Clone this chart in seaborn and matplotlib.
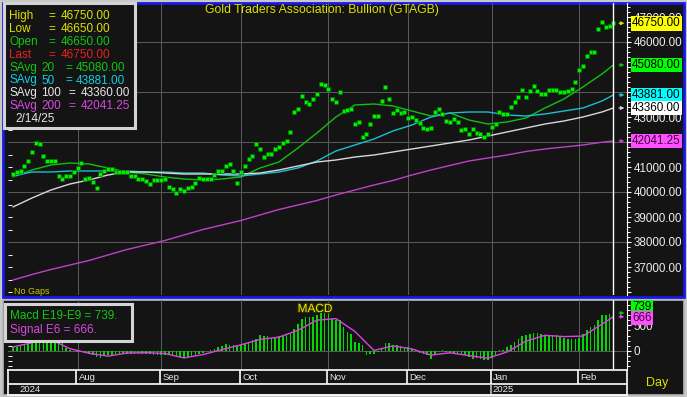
# ==========================================
# GOLD TRADERS ASSOCIATION: BULLION (GTAGB)
# PRICE + MOVING AVERAGES + MACD PANEL
# ==========================================

import numpy as np
import pandas as pd
import matplotlib
matplotlib.use("Agg")
import matplotlib.pyplot as plt
import matplotlib.patches as mpatches
import matplotlib.transforms as mtransforms
import matplotlib.patheffects as pe
from matplotlib.ticker import MultipleLocator, FuncFormatter
import seaborn as sns

# ==========================================
# DATA
# ==========================================

start_date = "2024-07-09"
end_date = "2025-02-14"

# daily closes, one per business day
close_prices = [
    40720, 40800, 40840, 41040, 41240, 41600, 41960, 41920, 41440, 41240,
    41240, 41240, 40640, 40520, 40640, 40640, 40800, 40960, 41160, 40520,
    40560, 40400, 40160, 40720, 40840, 40920, 40920, 40800, 40800, 40800,
    40800, 40640, 40640, 40520, 40520, 40440, 40320, 40480, 40480, 40480,
    40520, 40200, 40120, 39960, 40120, 40040, 40160, 40200, 40360, 40560,
    40520, 40520, 40520, 40680, 40840, 40840, 41040, 41120, 40840, 40360,
    40800, 41040, 41320, 41440, 41920, 41720, 41400, 41520, 41520, 41720,
    41800, 41960, 42040, 42400, 43200, 43320, 43840, 43600, 43520, 43720,
    43920, 44320, 44280, 44120, 43720, 43600, 44000, 43240, 43280, 43320,
    42720, 42800, 42200, 42320, 42720, 43040, 43040, 43640, 44200, 43720,
    43160, 43280, 43160, 43200, 42960, 43000, 42880, 42760, 42560, 42520,
    42560, 43200, 43320, 43120, 42840, 42800, 42920, 42800, 42480, 42520,
    42320, 42520, 42360, 42320, 42200, 42320, 42600, 42720, 43200, 43120,
    43120, 43400, 43600, 43800, 44080, 43800, 44040, 44240, 44040, 43920,
    43920, 44080, 44080, 44080, 44000, 44000, 44040, 44120, 44400, 44880,
    45040, 45440, 45600, 45600, 46520, 46800, 46600, 46640, 46750,
]

# moving averages, read every 5 business days plus the last day
savg_20 = [
    40600, 40880, 41080, 41160, 41120, 40960, 40800, 40720, 40600, 40520,
    40480, 40520, 40600, 40960, 41200, 41760, 42360, 43000, 43480, 43520,
    43440, 43240, 43040, 43160, 42880, 42720, 42800, 42960, 43360, 43720,
    44200, 44720, 45080,
]
savg_50 = [
    40640, 40800, 40800, 40840, 40840, 40840, 40840, 40800, 40800, 40760,
    40760, 40680, 40640, 40720, 40800, 40960, 41240, 41640, 41880, 42120,
    42440, 42680, 43000, 43160, 43200, 43200, 43080, 43040, 43120, 43240,
    43360, 43640, 43881,
]
savg_100 = [
    39400, 39760, 40080, 40320, 40480, 40680, 40800, 40800, 40760, 40720,
    40720, 40720, 40720, 40760, 40880, 41040, 41200, 41280, 41400, 41480,
    41600, 41720, 41840, 41960, 42080, 42240, 42400, 42560, 42720, 42840,
    43000, 43200, 43360,
]
savg_200 = [
    36480, 36700, 36900, 37080, 37260, 37480, 37700, 37880, 38060, 38280,
    38500, 38680, 38860, 39080, 39300, 39480, 39660, 39880, 40080, 40280,
    40460, 40680, 40880, 41060, 41240, 41360, 41480, 41620, 41720, 41800,
    41880, 41990, 42041.25,
]

# MACD histogram, one per business day
macd_values = [
    78, 78, 90, 110, 143, 190, 240, 270, 270, 260,
    250, 230, 190, 150, 60, 20, -10, -25, -20, -40,
    -60, -80, -110, -145, -100, -80, -70, -60, -50, -50,
    -50, -55, -55, -55, -60, -60, -65, -70, -70, -70,
    -75, -80, -95, -110, -125, -130, -125, -115, -90, -60,
    -35, -10, 26, 45, 78, 90, 130, 110, 123, 123,
    123, 130, 175, 207, 240, 305, 285, 285, 260, 272,
    285, 285, 305, 337, 420, 518, 615, 660, 660, 660,
    693, 740, 740, 713, 628, 596, 596, 467, 370, 337,
    175, 155, 110, -84, -52, -52, -20, 45, 155, 155,
    110, 110, 90, 78, 78, 45, 13, -39, -65, -84,
    -149, -65, -20, 13, -20, -39, -39, -52, -52, -84,
    -117, -149, -130, -149, -168, -168, -130, -84, 13, 26,
    78, 110, 175, 240, 285, 305, 324, 356, 356, 337,
    305, 305, 305, 305, 272, 260, 240, 240, 240, 260,
    337, 402, 467, 499, 596, 693, 706, 726, 739,
]

# signal line, read every 5 business days plus the last day
signal_values = [
    78, 160, 220, 45, -45, -100, -40, -32, -50, -135,
    -70, 26, 120, 225, 270, 400, 600, 630, 380, 10,
    100, 40, -80, -35, -90, -140, -20, 190, 305, 280,
    290, 520, 666,
]

month_labels = ["Aug", "Sep", "Oct", "Nov", "Dec", "Jan", "Feb"]
year_labels = ["2024", "2025"]
price_grid_levels = [38000, 40000, 42000, 44000, 46000]
hidden_price_labels = [36000, 42000, 44000, 45000]  # covered by value tags

legend_rows = [
    ("High", "46750.00", "#e0e000"),
    ("Low", "46650.00", "#e0e000"),
    ("Open", "46650.00", "#10c810"),
    ("Last", "46750.00", "#e82020"),
]
savg_rows = [
    ("20", "45080.00", "#10c810"),
    ("50", "43881.00", "#10d0e0"),
    ("100", "43360.00", "#e8e8e8"),
    ("200", "42041.25", "#d848e0"),
]
last_date = "2/14/25"

# ==========================================
# PREP
# ==========================================

dates = pd.bdate_range(start_date, end_date)
days = np.arange(len(dates))
ma_days = list(range(0, len(dates), 5)) + [len(dates) - 1]

price_df = pd.DataFrame({"day": days, "close": close_prices})

ma_colors = {
    "SAvg 20": "#10c010",
    "SAvg 50": "#18c0d0",
    "SAvg 100": "#d8d8d8",
    "SAvg 200": "#c040c8",
}
ma_df = pd.concat([
    pd.DataFrame({"day": ma_days, "value": vals, "series": name})
    for name, vals in zip(ma_colors.keys(), [savg_20, savg_50, savg_100, savg_200])
])

month_days = [i for i in range(1, len(dates)) if dates[i].month != dates[i - 1].month]

# ==========================================
# FIGURE SETUP
# ==========================================

sns.set_theme(style="dark")
plt.rcParams["font.family"] = ["Liberation Sans", "DejaVu Sans"]

W, H = 687, 397
BG = "#141414"
GRID = "#585858"

fig = plt.figure(figsize=(W / 100, H / 100), dpi=100, facecolor="#c8c8c8")


def px_rect(x0, y0, x1, y1):
    return [x0 / W, 1 - y1 / H, (x1 - x0) / W, (y1 - y0) / H]


def add_box(x0, y0, x1, y1, face, edge, lw, z):
    l, b, w, h = px_rect(x0, y0, x1, y1)
    fig.add_artist(mpatches.Rectangle(
        (l, b), w, h, transform=fig.transFigure,
        facecolor=face, edgecolor=edge, linewidth=lw, zorder=z
    ))


def fig_text(x, y, s, color, size, **kw):
    return fig.text(x / W, 1 - y / H, s, color=color, fontsize=size,
                    va="center", zorder=9, **kw)


def right_axis(ax, major, minor, fmt):
    axr = ax.twinx()
    axr.set_ylim(ax.get_ylim())
    axr.set_xlim(*xlim)
    for s in axr.spines.values():
        s.set_visible(False)
    axr.spines["right"].set_visible(True)
    axr.spines["right"].set_color("white")
    axr.spines["right"].set_linewidth(0.8)
    axr.yaxis.set_major_locator(MultipleLocator(major))
    axr.yaxis.set_minor_locator(MultipleLocator(minor))
    axr.yaxis.set_major_formatter(FuncFormatter(fmt))
    axr.tick_params(axis="y", which="major", length=3, width=0.8, pad=1.5,
                    color="white", labelcolor="#ececec", labelsize=8.4)
    axr.tick_params(axis="y", which="minor", length=2, width=0.7, color="white")
    axr.grid(False)
    axr.set_ylabel("")
    return axr


def value_tag(axr, val, label, fc, tc, z=10):
    tr = mtransforms.blended_transform_factory(axr.transAxes, axr.transData)
    axr.text(1 + 5 / 619, val, label, transform=tr, fontsize=8.4, color=tc,
             va="center", ha="left", clip_on=False, zorder=z,
             bbox=dict(boxstyle="square,pad=0.12", fc=fc, ec="none"))


def tag_arrow(axr, val, color):
    axr.annotate("", xy=(160.9, val), xytext=(159.5, val),
                 arrowprops=dict(arrowstyle="-|>", color=color, lw=0.8,
                                 mutation_scale=5, shrinkA=0, shrinkB=0),
                 annotation_clip=False)


def grid_lines(ax, xs, ys):
    for pos in xs:
        ax.axvline(pos, color=GRID, linewidth=0.75, zorder=1.5, snap=True)
    for lvl in ys:
        ax.axhline(lvl, color=GRID, linewidth=0.75, zorder=1.5, snap=True)


# panel backgrounds
add_box(3, 2.5, 684, 296.5, BG, "#1818e8", 2, -5)
add_box(3, 299.5, 684, 395, BG, "#b8b8b8", 1.2, -5)

ax_main = fig.add_axes(px_rect(8, 3, 627, 295))
ax_macd = fig.add_axes(px_rect(8, 300, 627, 370))
ax_date = fig.add_axes(px_rect(8, 370, 627, 395))

xlim = (-1.3, 161.6)
for ax in (ax_main, ax_macd, ax_date):
    ax.set_facecolor("none")
    ax.set_xlim(*xlim)
    ax.grid(False)
    for s in ax.spines.values():
        s.set_visible(False)

# ==========================================
# MAIN PRICE PANEL
# ==========================================

ax_main.set_ylim(35880, 47560)
grid_lines(ax_main, month_days, price_grid_levels)

sns.lineplot(data=ma_df, x="day", y="value", hue="series", palette=ma_colors,
             estimator=None, linewidth=1, legend=False, ax=ax_main, zorder=3)
sns.scatterplot(data=price_df, x="day", y="close", marker="s", s=11,
                color="#00f000", edgecolor="#006800", linewidth=0.4,
                legend=False, ax=ax_main, zorder=4)

ax_main.axvline(days[-1], color="white", linewidth=1, zorder=5)

ax_main.set_xlabel("")
ax_main.set_ylabel("")
ax_main.set_xticks([])
ax_main.yaxis.set_major_locator(MultipleLocator(500))
ax_main.tick_params(axis="y", which="major", left=True, length=3, width=0.7,
                    color="white", direction="in", labelleft=False)

ax_r = right_axis(ax_main, 1000, 200,
                  lambda v, p: "" if round(v) in hidden_price_labels else f"{v:.2f}")

price_tags = [
    (46750, "46750.00", "#ffff00", "#000000", "#e0e000"),
    (45080, "45080.00", "#00ff00", "#000000", "#10c010"),
    (43881, "43881.00", "#00ffff", "#000000", "#18c0d0"),
    (43360, "43360.00", "#ffffff", "#000000", "#d8d8d8"),
    (42041.25, "42041.25", "#ff50ff", "#400040", "#c040c8"),
]
for val, lab, fc, tc, ac in price_tags:
    value_tag(ax_r, val, lab, fc, tc)
    tag_arrow(ax_r, val, ac)

# ==========================================
# MACD PANEL
# ==========================================

ax_macd.set_ylim(-370, 992)
grid_lines(ax_macd, month_days, [0])

ax_macd.bar(days, macd_values, width=0.42, color="#00d800",
            edgecolor="none", linewidth=0, zorder=3)
sns.lineplot(x=ma_days, y=signal_values, color="#e040e8", linewidth=1,
             ax=ax_macd, zorder=4)
ax_macd.axvline(days[-1], color="white", linewidth=1, zorder=5)

ax_macd.set_xticks([])
ax_macd.yaxis.set_major_locator(MultipleLocator(100))
ax_macd.tick_params(axis="y", which="major", left=True, length=3, width=0.7,
                    color="white", direction="in", labelleft=False)
ax_macd.spines["bottom"].set_visible(True)
ax_macd.spines["bottom"].set_color("white")
ax_macd.spines["bottom"].set_linewidth(1.2)

ax_mr = right_axis(ax_macd, 500, 100, lambda v, p: f"{v:.0f}")
value_tag(ax_mr, 856, "739", "#00ff00", "#000000", z=10)
value_tag(ax_mr, 640, "666", "#ff50ff", "#400040", z=11)
tag_arrow(ax_mr, 739, "#10c010")
tag_arrow(ax_mr, 666, "#e040e8")

# ==========================================
# DATE BAND
# ==========================================

ax_date.set_ylim(0, 1)
ax_date.set_xticks([])
ax_date.set_yticks([])
for side in ("left", "right", "bottom"):
    ax_date.spines[side].set_visible(True)
    ax_date.spines[side].set_color("white")
    ax_date.spines[side].set_linewidth(1.2)
ax_date.axhline(0.458, color="white", linewidth=1.2)

for pos, lab in zip(month_days, month_labels):
    ax_date.vlines(pos - 0.3, 0.458, 1, color="white", linewidth=1.2)
    ax_date.text(pos + 0.3, 0.70, lab, color="#e8e8e8", fontsize=6.8,
                 ha="left", va="center")

jan_pos = month_days[month_labels.index("Jan")]
ax_date.vlines(jan_pos - 0.3, 0, 0.458, color="#bdbdbd", linewidth=1.2)
ax_date.text(1.6, 0.24, year_labels[0], color="#e8e8e8", fontsize=6.8,
             ha="left", va="center")
ax_date.text(jan_pos + 0.3, 0.24, year_labels[1], color="#e8e8e8", fontsize=6.8,
             ha="left", va="center")

fig_text(657, 383, "Day", "#e0e000", 9, ha="center")

# ==========================================
# TEXT OVERLAYS
# ==========================================

fig_text(322, 10, "Gold Traders Association: Bullion (GTAGB)", "#e0e000", 8.8,
         ha="center")
fig_text(14, 291, "No Gaps", "#c8c800", 6.5, ha="left")

# main legend box
add_box(3.5, 3.5, 135, 128, BG, "#d4d4d4", 2.2, 6)
row_y = [16 + 12.9 * k for k in range(9)]
for (lab, val, col), y in zip(legend_rows, row_y[:4]):
    fig_text(9, y, lab, col, 8.5, ha="left")
    fig_text(48, y, "=", col, 8.5, ha="left")
    fig_text(61, y, val, col, 8.5, ha="left")
for (n, val, col), y in zip(savg_rows, row_y[4:8]):
    wide = len(n) == 3
    fig_text(9, y, "SAvg", col, 8.5, ha="left")
    fig_text(41, y, n, col, 8.5, ha="left")
    fig_text(68 if wide else 65, y, "=", col, 8.5, ha="left")
    fig_text(81 if wide else 76, y, val, col, 8.5, ha="left")
fig_text(15, row_y[8], last_date, "#e8e8e8", 8.5, ha="left")

# MACD legend box
add_box(4.5, 304, 132, 341, BG, "#d4d4d4", 2.2, 6)
fig_text(10, 316, "Macd E19-E9 = 739.", "#10c810", 8.5, ha="left")
fig_text(10, 330, "Signal E6 = 666.", "#d848e0", 8.5, ha="left")

t = fig_text(315, 309, "MACD", "#e8e800", 8.5, ha="center")
t.set_path_effects([pe.withStroke(linewidth=1.5, foreground="#303000")])

# ==========================================
# SAVE
# ==========================================

fig.savefig("out.png", dpi=100, facecolor=fig.get_facecolor())
print("Saved out.png")
